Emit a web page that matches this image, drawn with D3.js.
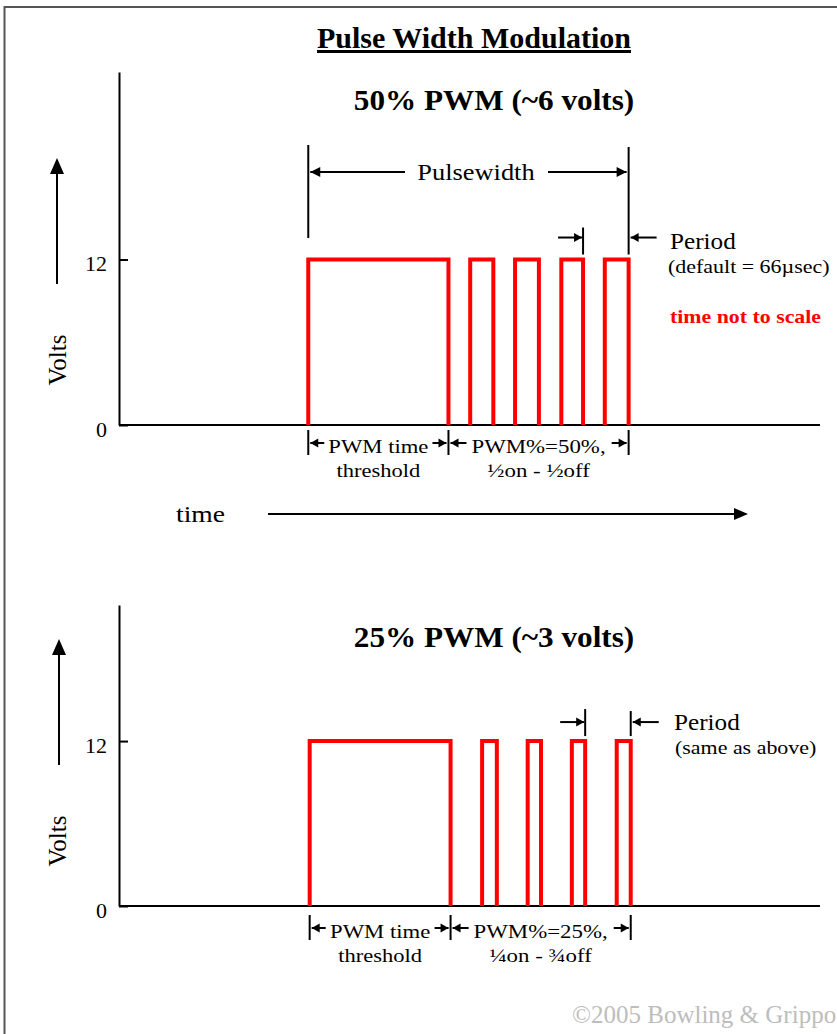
<!DOCTYPE html>
<html>
<head>
<meta charset="utf-8">
<script src="https://cdn.jsdelivr.net/npm/d3@7"></script>
<style>
  body { margin: 0; background: #fff; }
  text { font-family: "Liberation Serif", "Times New Roman", serif; fill: #000; }
</style>
</head>
<body>
<svg id="chart" width="837" height="1034"></svg>
<script>
// time is in arbitrary units (the picture says "time not to scale"), volts on y
const voltTicks = [0, 12];
const highLevel = 12;

// [rise, fall] of each pulse: first one is the PWM time threshold, then the PWM train
const pulses50 = [[27.0, 47.0], [50.1, 53.4], [56.5, 59.9], [63.1, 66.2], [69.3, 72.7]];
const pulses25 = [[27.2, 47.3], [51.8, 53.9], [58.3, 60.2], [64.6, 66.5], [71.0, 73.0]];

const titles = ["50% PWM (~6 volts)", "25% PWM (~3 volts)"];
const dutyLabels = [["PWM%=50%,", "½on - ½off"], ["PWM%=25%,", "¼on - ¾off"]];
const periodNotes = ["(default = 66µsec)", "(same as above)"];

const svg = d3.select("#chart");
const W = 837, H = 1034;

svg.append("rect").attr("width", W).attr("height", H).attr("fill", "#fff");

// page frame (only top and left edges show)
svg.append("path")
    .attr("d", `M4.5,${H} V7 H${W}`)
    .attr("fill", "none")
    .attr("stroke", "#555")
    .attr("stroke-width", 2);

// text with a little horizontal stretch, like the original bitmap
function label(g, x, y, str, size, opts = {}) {
    const t = g.append("text")
        .attr("transform", `translate(${x},${y}) scale(${opts.sx || 1},1)`)
        .attr("text-anchor", opts.anchor || "start")
        .style("font-size", size + "px")
        .text(str);
    if (opts.bold) t.style("font-weight", "bold");
    if (opts.color) t.style("fill", opts.color);
    if (opts.underline) t.style("text-decoration", "underline");
    return t;
}

// filled triangle with its tip at (x, y)
function head(g, x, y, dir, len = 8, half = 4.5) {
    let pts;
    if (dir === "right") pts = [[x, y], [x - len, y - half], [x - len, y + half]];
    else if (dir === "left") pts = [[x, y], [x + len, y - half], [x + len, y + half]];
    else pts = [[x, y], [x - half, y + len], [x + half, y + len]];
    g.append("path").attr("d", d3.line()(pts) + "Z").attr("fill", "#000");
}

function hArrow(g, from, to, y, len, half) {
    g.append("line")
        .attr("x1", from).attr("x2", to).attr("y1", y).attr("y2", y)
        .attr("stroke", "#000").attr("stroke-width", 2);
    head(g, to, y, to > from ? "right" : "left", len, half);
}

function vLine(g, x, y1, y2) {
    g.append("line")
        .attr("x1", x).attr("x2", x).attr("y1", y1).attr("y2", y2)
        .attr("stroke", "#000").attr("stroke-width", 2);
}

const x = d3.scaleLinear().domain([0, 100]).range([119, 820]);

const panels = [
    { pulses: pulses50, top: 72, base: 425, axisMax: 25.6, titleY: 110, annY: 443 },
    { pulses: pulses25, top: 605, base: 906, axisMax: 21.9, titleY: 647, annY: 928 }
];

// title
label(svg, 474, 48, "Pulse Width Modulation", 30, { bold: true, anchor: "middle", underline: true });

panels.forEach((p, i) => {
    const g = svg.append("g");
    const y = d3.scaleLinear().domain([0, p.axisMax]).range([p.base, p.top]);
    const pulses = p.pulses;
    const yHigh = y(highLevel);

    // y axis with the 0 and 12 volt ticks pointing inward
    const axis = g.append("g")
        .attr("transform", `translate(${x(0)},0)`)
        .call(d3.axisLeft(y).tickValues(voltTicks).tickSizeInner(-9).tickSizeOuter(0).tickPadding(12));
    axis.select(".domain").attr("stroke", "#000").attr("stroke-width", 2);
    axis.selectAll(".tick line").attr("stroke", "#000").attr("stroke-width", 2);
    axis.selectAll(".tick text")
        .attr("dy", "0.5em")
        .style("font-family", "'Liberation Serif', serif")
        .style("font-size", "22px")
        .attr("fill", "#000");

    // zero line
    g.append("line")
        .attr("x1", x(0)).attr("x2", x(100))
        .attr("y1", y(0)).attr("y2", y(0))
        .attr("stroke", "#000").attr("stroke-width", 2);

    // red pulses
    g.selectAll(".pulse")
        .data(pulses)
        .join("path")
        .attr("class", "pulse")
        .attr("d", d => `M${x(d[0])},${y(0)} V${yHigh} H${x(d[1])} V${y(0)}`)
        .attr("fill", "none")
        .attr("stroke", "#ff0000")
        .attr("stroke-width", 4)
        .attr("stroke-linejoin", "miter");

    // Volts arrow and label
    const ax = i === 0 ? 57 : 59;
    g.append("line")
        .attr("x1", ax).attr("x2", ax)
        .attr("y1", p.base - 141).attr("y2", p.base - 262)
        .attr("stroke", "#000").attr("stroke-width", 2);
    head(g, ax, p.base - 267, "up", 16, 7);
    g.append("text")
        .attr("transform", `translate(${66},${p.base - 65}) rotate(-90)`)
        .attr("text-anchor", "middle")
        .style("font-size", "25px")
        .text("Volts");

    // panel title
    label(g, 494, p.titleY, titles[i], 30, { bold: true, anchor: "middle", sx: 1.04 });

    // annotations under the zero line
    const t0 = x(pulses[0][0]);
    const t1 = x(pulses[0][1]);
    const t2 = x(pulses[pulses.length - 1][1]);
    const a = p.annY;
    [t0, t1, t2].forEach(v => vLine(g, v, a - 13, a + 12));
    hArrow(g, t0 + 16, t0 + 2, a, 8, 4.5);
    hArrow(g, t1 - 16, t1 - 2, a, 8, 4.5);
    hArrow(g, t1 + 18, t1 + 2, a, 8, 4.5);
    hArrow(g, t2 - 17, t2 - 2, a, 8, 4.5);
    label(g, (t0 + t1) / 2, a + 10, "PWM time", 18, { anchor: "middle", sx: 1.26 });
    label(g, (t0 + t1) / 2, a + 34, "threshold", 18, { anchor: "middle", sx: 1.25 });
    label(g, (t1 + t2) / 2, a + 10, dutyLabels[i][0], 18, { anchor: "middle", sx: 1.27 });
    label(g, (t1 + t2) / 2, a + 34, dutyLabels[i][1], 18, { anchor: "middle", sx: 1.27 });

    // period markers above the last two pulses
    const pA = x(pulses[pulses.length - 2][1]);
    const pY = yHigh - (i === 0 ? 22 : 19);
    vLine(g, pA, yHigh - 32, yHigh - 5);
    hArrow(g, pA - 25, pA - 1, pY, 8, 4.5);
    if (i === 1) vLine(g, t2, yHigh - 30, yHigh - 5);
    hArrow(g, t2 + 28, t2 + 2, pY, 8, 4.5);
    label(g, i === 0 ? 670 : 674, yHigh - 11, "Period", 24, { sx: 1.05 });
    label(g, i === 0 ? 668 : 675, yHigh + 13, periodNotes[i], 18, { sx: 1.22 });

    if (i === 0) {
        // pulsewidth span
        vLine(g, t0, 145, 238);
        vLine(g, t2, 147, yHigh - 5);
        hArrow(g, 405, t0 + 2, 172, 10, 5);
        hArrow(g, 548, t2 - 2, 172, 10, 5);
        label(g, 476, 180, "Pulsewidth", 24, { anchor: "middle", sx: 1.1 });
        label(g, 670, 323, "time not to scale", 19, { bold: true, color: "#ff0000", sx: 1.15 });
    }
});

// time axis arrow
svg.append("line")
    .attr("x1", 268).attr("x2", 736)
    .attr("y1", 514).attr("y2", 514)
    .attr("stroke", "#000").attr("stroke-width", 2);
head(svg, 748, 514, "right", 14, 6);
label(svg, 176, 522, "time", 24, { sx: 1.15 });

// copyright
label(svg, 572, 1023, "©2005 Bowling & Grippo", 25, { color: "#bdbdbd" });
</script>
</body>
</html>
